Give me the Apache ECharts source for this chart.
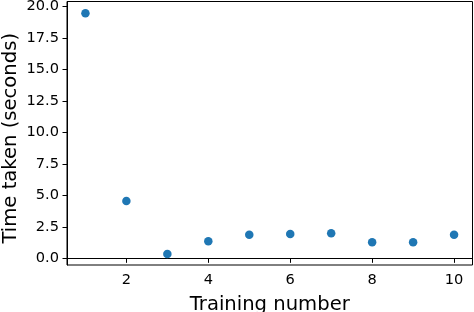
<!DOCTYPE html>
<html><head><meta charset="utf-8">
<script src="https://cdn.jsdelivr.net/npm/echarts@6/dist/echarts.min.js"></script>
<style>html,body{margin:0;padding:0;background:#fff}#c{width:474px;height:312px}</style>
</head><body><div id="c"></div>
<script>
const trainingNumbers = [1, 2, 3, 4, 5, 6, 7, 8, 9, 10];
const timeTaken = [19.47, 4.55, 0.34, 1.35, 1.88, 1.93, 1.99, 1.27, 1.27, 1.88];
const xTicks = [2, 4, 6, 8, 10];
const yTicks = [0, 2.5, 5, 7.5, 10, 12.5, 15, 17.5, 20];
const xTitle = 'Training number';
const yTitle = 'Time taken (seconds)';

const font = 'DejaVu Sans';
const chart = echarts.init(document.getElementById('c'), null, {renderer: 'canvas'});
chart.setOption({
  animation: false,
  backgroundColor: '#fff',
  grid: {left: 67, right: 1.5, top: 1.5, bottom: 47, show: true, borderColor: '#000', borderWidth: 1,
    backgroundColor: 'transparent', containLabel: false, outerBoundsMode: 'none'},
  xAxis: {
    type: 'value', min: 0.55, max: 10.45,
    name: xTitle, nameLocation: 'middle', nameGap: 30, nameMoveOverlap: false,
    nameTextStyle: {fontFamily: font, fontSize: 19.6, color: '#000'},
    axisLine: {show: true, lineStyle: {color: '#000', width: 1}},
    axisTick: {show: true, length: 4.5, customValues: xTicks, lineStyle: {color: '#000'}},
    axisLabel: {customValues: xTicks, fontFamily: font, fontSize: 14.6, color: '#000', margin: 8},
    splitLine: {show: false}
  },
  yAxis: {
    type: 'value', min: -0.53, max: 20.41,
    name: yTitle, nameLocation: 'middle', nameGap: 46, nameMoveOverlap: false,
    nameTextStyle: {fontFamily: font, fontSize: 19.6, color: '#000', padding: [0, 10, 0, 0]},
    axisLine: {show: true, lineStyle: {color: '#000', width: 1}},
    axisTick: {show: true, length: 4.5, customValues: yTicks, lineStyle: {color: '#000'}},
    axisLabel: {customValues: yTicks, fontFamily: font, fontSize: 14.6, color: '#000', margin: 8,
      formatter: v => v.toFixed(1)},
    splitLine: {show: false}
  },
  series: [{
    type: 'scatter',
    data: trainingNumbers.map((x, i) => [x, timeTaken[i]]),
    symbolSize: 8.5,
    itemStyle: {color: '#1f77b4', opacity: 1}
  }]
});
</script></body></html>
